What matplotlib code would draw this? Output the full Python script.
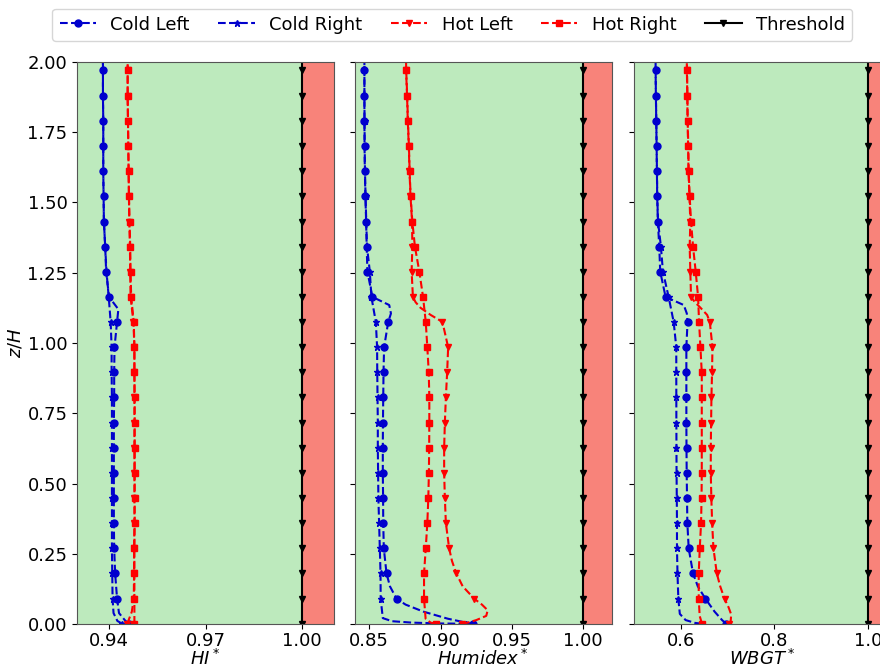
import numpy as np
import matplotlib
matplotlib.use("Agg")
import matplotlib.pyplot as plt

# Висоти маркерів (z/H), знизу вгору
z_marks = [0.002, 0.091, 0.181, 0.270, 0.360, 0.449, 0.538, 0.628, 0.717, 0.807,
           0.896, 0.985, 1.075, 1.164, 1.254, 1.343, 1.432, 1.522, 1.611, 1.701,
           1.790, 1.879, 1.969]

# ---- HI* ----
hi_cold_left = [0.9460, 0.9424, 0.9418, 0.9415, 0.9414, 0.9414, 0.9414, 0.9414, 0.9414, 0.9415,
                0.9415, 0.9416, 0.9424, 0.9399, 0.9390, 0.9387, 0.9383, 0.9382, 0.9381, 0.9381,
                0.9381, 0.9380, 0.9380]
hi_cold_right = [0.9440, 0.9410, 0.9409, 0.9408, 0.9408, 0.9408, 0.9408, 0.9408, 0.9408, 0.9408,
                 0.9407, 0.9407, 0.9404, 0.9398, 0.9391, 0.9387, 0.9383, 0.9382, 0.9381, 0.9381,
                 0.9381, 0.9380, 0.9380]
hi_hot_left = [0.9455, 0.9476, 0.9477, 0.9477, 0.9478, 0.9478, 0.9478, 0.9478, 0.9478, 0.9478,
               0.9478, 0.9478, 0.9475, 0.9466, 0.9465, 0.9464, 0.9462, 0.9461, 0.9460, 0.9459,
               0.9458, 0.9457, 0.9457]
hi_hot_right = [0.9478, 0.9478, 0.9478, 0.9478, 0.9479, 0.9479, 0.9479, 0.9479, 0.9479, 0.9479,
                0.9478, 0.9478, 0.9476, 0.9468, 0.9466, 0.9465, 0.9463, 0.9461, 0.9460, 0.9459,
                0.9458, 0.9457, 0.9457]
# додаткові точки кривих без маркерів: (z, значення)
hi_cold_left_extra = [(0.015, 0.9448), (0.04, 0.9430), (1.12, 0.9428), (2.0, 0.9380)]
hi_cold_right_extra = [(0.012, 0.9425), (0.04, 0.9413), (2.0, 0.9380)]
hi_hot_left_extra = [(0.015, 0.9460), (0.045, 0.9470), (2.0, 0.9457)]
hi_hot_right_extra = [(2.0, 0.9457)]

# ---- Humidex* ----
hu_cold_left = [0.9230, 0.8691, 0.8621, 0.8602, 0.8598, 0.8597, 0.8595, 0.8595, 0.8596, 0.8598,
                0.8600, 0.8604, 0.8633, 0.8522, 0.8487, 0.8482, 0.8478, 0.8473, 0.8469, 0.8467,
                0.8466, 0.8466, 0.8466]
hu_cold_right = [0.9180, 0.8580, 0.8579, 0.8574, 0.8569, 0.8564, 0.8562, 0.8560, 0.8560, 0.8558,
                 0.8556, 0.8555, 0.8546, 0.8515, 0.8504, 0.8484, 0.8479, 0.8474, 0.8470, 0.8468,
                 0.8467, 0.8466, 0.8466]
hu_hot_left = [0.9150, 0.9236, 0.9110, 0.9060, 0.9037, 0.9030, 0.9025, 0.9025, 0.9030, 0.9037,
               0.9046, 0.9053, 0.9013, 0.8806, 0.8797, 0.8802, 0.8800, 0.8789, 0.8782, 0.8777,
               0.8770, 0.8765, 0.8758]
hu_hot_right = [0.8966, 0.8884, 0.8884, 0.8896, 0.8907, 0.8914, 0.8918, 0.8920, 0.8921, 0.8921,
                0.8917, 0.8907, 0.8896, 0.8877, 0.8851, 0.8820, 0.8802, 0.8790, 0.8783, 0.8778,
                0.8771, 0.8766, 0.8759]
hu_cold_left_extra = [(0.008, 0.916), (0.02, 0.905), (0.045, 0.888), (0.07, 0.8755),
                      (0.135, 0.8645), (1.105, 0.8652), (1.135, 0.8640), (2.0, 0.8466)]
hu_cold_right_extra = [(0.003, 0.900), (0.006, 0.880), (0.011, 0.866), (0.022, 0.8595),
                       (2.0, 0.8466)]
hu_hot_left_extra = [(0.006, 0.919), (0.015, 0.925), (0.03, 0.932), (0.05, 0.933),
                     (0.07, 0.929), (0.135, 0.9155), (0.225, 0.9080), (1.10, 0.8930),
                     (1.125, 0.8860), (1.145, 0.8825), (2.0, 0.8758)]
hu_hot_right_extra = [(0.006, 0.8930), (0.02, 0.8895), (2.0, 0.8758)]

# ---- WBGT* ----
wb_cold_left = [0.6970, 0.6523, 0.6258, 0.6165, 0.6136, 0.6129, 0.6122, 0.6118, 0.6115, 0.6115,
                0.6115, 0.6115, 0.6140, 0.5670, 0.5555, 0.5534, 0.5505, 0.5490, 0.5484, 0.5477,
                0.5470, 0.5462, 0.5456]
wb_cold_right = [0.6450, 0.5943, 0.5925, 0.5914, 0.5914, 0.5910, 0.5905, 0.5903, 0.5901, 0.5900,
                 0.5899, 0.5899, 0.5843, 0.5735, 0.5613, 0.5570, 0.5508, 0.5492, 0.5485, 0.5478,
                 0.5471, 0.5463, 0.5457]
wb_hot_left = [0.7026, 0.6932, 0.6767, 0.6695, 0.6667, 0.6650, 0.6638, 0.6638, 0.6645, 0.6652,
               0.6665, 0.6674, 0.6617, 0.6215, 0.6200, 0.6186, 0.6200, 0.6180, 0.6160, 0.6153,
               0.6140, 0.6135, 0.6126]
wb_hot_right = [0.6450, 0.6380, 0.6380, 0.6402, 0.6430, 0.6440, 0.6445, 0.6445, 0.6445, 0.6445,
                0.6445, 0.6416, 0.6387, 0.6366, 0.6315, 0.6258, 0.6215, 0.6186, 0.6165, 0.6157,
                0.6143, 0.6138, 0.6129]
wb_cold_left_extra = [(0.015, 0.688), (0.045, 0.672), (0.135, 0.6360), (1.105, 0.6125),
                      (1.135, 0.6060), (2.0, 0.5455)]
wb_cold_right_extra = [(0.005, 0.630), (0.015, 0.610), (0.037, 0.5975), (2.0, 0.5456)]
wb_hot_left_extra = [(0.012, 0.7065), (0.035, 0.7075), (0.06, 0.7020), (0.135, 0.6840),
                     (1.10, 0.6560), (1.125, 0.6420), (1.145, 0.6300), (2.0, 0.6125)]
wb_hot_right_extra = [(0.03, 0.6400), (2.0, 0.6128)]

threshold = 1.0

panels = [
    dict(xlim=(0.93, 1.01), xticks=[0.94, 0.97, 1.00], fmt="%.2f", xlabel="$HI^*$",
         series=[(hi_cold_left, hi_cold_left_extra), (hi_cold_right, hi_cold_right_extra),
                 (hi_hot_left, hi_hot_left_extra), (hi_hot_right, hi_hot_right_extra)]),
    dict(xlim=(0.84, 1.02), xticks=[0.85, 0.90, 0.95, 1.00], fmt="%.2f", xlabel="$Humidex^*$",
         series=[(hu_cold_left, hu_cold_left_extra), (hu_cold_right, hu_cold_right_extra),
                 (hu_hot_left, hu_hot_left_extra), (hu_hot_right, hu_hot_right_extra)]),
    dict(xlim=(0.5, 1.05), xticks=[0.6, 0.8, 1.0], fmt="%.1f", xlabel="$WBGT^*$",
         series=[(wb_cold_left, wb_cold_left_extra), (wb_cold_right, wb_cold_right_extra),
                 (wb_hot_left, wb_hot_left_extra), (wb_hot_right, wb_hot_right_extra)]),
]

labels = ["Cold Left", "Cold Right", "Hot Left", "Hot Right"]
styles = [dict(color="mediumblue", marker="o", ms=5),
          dict(color="mediumblue", marker="*", ms=5),
          dict(color="red", marker="v", ms=5),
          dict(color="red", marker="s", ms=4.5)]


def merge(marks, extra):
    # об'єднання точок з маркерами та проміжних точок кривої
    zz = list(z_marks) + [e[0] for e in extra]
    xx = list(marks) + [e[1] for e in extra]
    order = np.argsort(zz)
    zz = np.array(zz)[order]
    xx = np.array(xx)[order]
    mark_idx = [int(np.where(order == i)[0][0]) for i in range(len(z_marks))]
    return xx, zz, mark_idx


plt.rcParams["font.size"] = 13
fig = plt.figure(figsize=(8.8, 6.69), dpi=100)

lefts = [0.0878, 0.4034, 0.7208]
width = 0.2918
bottom, height = 0.0668, 0.8409

axes = []
for i, p in enumerate(panels):
    ax = fig.add_axes([lefts[i], bottom, width, height],
                      sharey=axes[0] if axes else None)
    axes.append(ax)
    ax.axvspan(p["xlim"][0], threshold, color="#bdeabd", zorder=0, lw=0)
    ax.axvspan(threshold, p["xlim"][1], color="#f8837a", zorder=0, lw=0)
    handles = []
    for (marks, extra), lab, st in zip(p["series"], labels, styles):
        xx, zz, idx = merge(marks, extra)
        h, = ax.plot(xx, zz, "--", color=st["color"], marker=st["marker"],
                     markersize=st["ms"], markevery=idx, lw=1.5, label=lab)
        handles.append(h)
    thr_z = [0.0] + list(z_marks) + [2.0]
    h, = ax.plot([threshold] * len(thr_z), thr_z, "-", color="black", marker="v",
                 markersize=4, markevery=list(range(1, len(thr_z) - 1)), lw=1.5,
                 label="Threshold")
    handles.append(h)
    ax.set_xlim(*p["xlim"])
    ax.set_xticks(p["xticks"])
    ax.set_xticklabels([p["fmt"] % t for t in p["xticks"]])
    ax.tick_params(axis="x", pad=2)
    ax.set_xlabel(p["xlabel"], labelpad=-1, fontsize=13)
    ax.set_ylim(0, 2)
    for s in ax.spines.values():
        s.set_color("#555555")
    if i > 0:
        ax.tick_params(axis="y", labelleft=False)

axes[0].set_yticks(np.arange(0, 2.01, 0.25))
axes[0].set_yticklabels(["%.2f" % t for t in np.arange(0, 2.01, 0.25)])
axes[0].set_ylabel("$z/H$", labelpad=2)

fig.legend(handles=handles, loc="center", bbox_to_anchor=(0.514, 0.963), ncol=5,
           fontsize=13, handlelength=2, columnspacing=1.6)

plt.savefig("out.png", dpi=100)
